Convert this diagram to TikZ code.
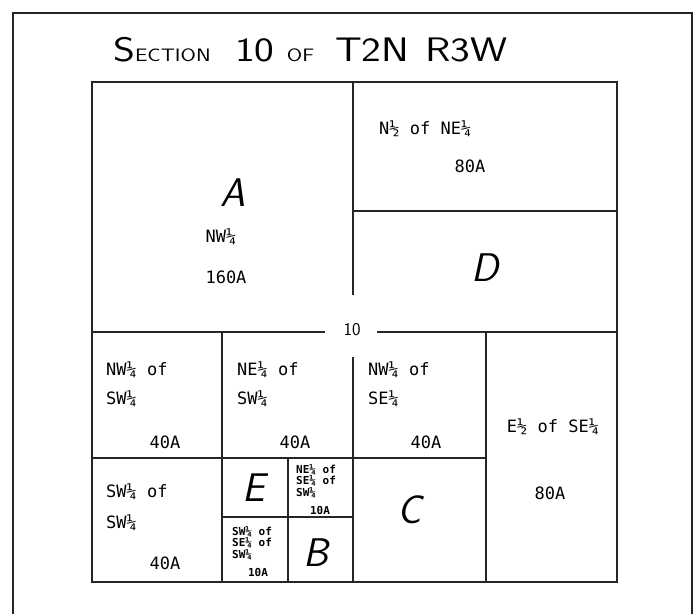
\documentclass[tikz,border=0pt]{standalone}
\usepackage{fontspec}
\usepackage{graphicx}
\newfontfamily\tw{DejaVu Sans Mono}
\newfontfamily\twb{DejaVu Sans Mono Bold}
\newcommand{\bigfs}{\fontsize{34}{34}\selectfont}
\newcommand{\smfs}{\fontsize{18}{18}\selectfont}
\begin{document}
\begin{tikzpicture}[x=1pt,y=-1pt,
  frame/.style={line width=2.2pt,black!85},
  plat/.style={line width=1.8pt,black!85},
  tlab/.style={font=\tw\fontsize{17}{17}\selectfont,anchor=base west,inner sep=0pt},
  acre/.style={font=\tw\fontsize{17}{17}\selectfont,anchor=base,inner sep=0pt},
  small/.style={font=\twb\fontsize{11}{11.5}\selectfont,anchor=base west,inner sep=0pt,align=left},
  smacre/.style={font=\twb\fontsize{11}{11}\selectfont,anchor=base,inner sep=0pt},
  letter/.style={font=\sffamily\slshape\fontsize{40}{40}\selectfont,inner sep=0pt},
]
\useasboundingbox (0,0) rectangle (699,614);
\fill[white] (0,0) rectangle (699,614);
% outer frame (open at the bottom edge of the page)
\draw[frame] (13,614) -- (13,13) -- (692,13) -- (692,614);
% title
\node[anchor=base west,inner sep=0pt,font=\sffamily] (title) at (113,61)
  {\scalebox{1.23}[1]{{\bigfs S}{\smfs ECTION}\hspace{20pt}{\bigfs 10}\hspace{10pt}{\smfs OF}\hspace{17pt}{\bigfs T2N}\hspace{13pt}{\bigfs R3W}}};
% section plat
\draw[plat] (92,82) rectangle (617,582);
\draw[plat] (353,82) -- (353,295);
\draw[plat] (353,211) -- (617,211);
\draw[plat] (92,332) -- (325,332);
\draw[plat] (377,332) -- (617,332);
\draw[plat] (353,357) -- (353,582);
\draw[plat] (222,332) -- (222,582);
\draw[plat] (486,332) -- (486,582);
\draw[plat] (92,458) -- (486,458);
\draw[plat] (288,458) -- (288,582);
\draw[plat] (222,517) -- (353,517);
% section number on the midline
\node[font=\sffamily\fontsize{18}{18}\selectfont,inner sep=0pt] (ten) at (352,330) {10};
% NW quarter
\node[letter] (A) at (233,193) {A};
\node[acre] (nwq) at (221,242) {NW¼};
\node[acre] (nwa) at (226,283) {160A};
% NE quarter
\node[tlab] (n2) at (379,134) {N½ of NE¼};
\node[acre] (n2a) at (470,172) {80A};
\node[letter] (D) at (485,268) {D};
% SW quarter and SE quarter
\node[tlab] (l1) at (106,375) {NW¼ of};
\node[tlab] (l1b) at (106,404) {SW¼};
\node[acre] (l1a) at (165,448) {40A};
\node[tlab] (l2) at (237,375) {NE¼ of};
\node[tlab] (l2b) at (237,404) {SW¼};
\node[acre] (l2a) at (295,448) {40A};
\node[tlab] (l3) at (368,375) {NW¼ of};
\node[tlab] (l3b) at (368,404) {SE¼};
\node[acre] (l3a) at (426,448) {40A};
\node[acre] (r1) at (553,432) {E½ of SE¼};
\node[acre] (r1a) at (550,499) {80A};
\node[tlab] (l4) at (106,497) {SW¼ of};
\node[tlab] (l4b) at (106,528) {SW¼};
\node[acre] (l4a) at (165,569) {40A};
\node[letter] (E) at (254,488) {E};
\node[small] (s1) at (296,496) {NE¼ of\\SE¼ of\\SW¼};
\node[smacre] (s1a) at (320,514) {10A};
\node[small] (s2) at (232,558) {SW¼ of\\SE¼ of\\SW¼};
\node[smacre] (s2a) at (258,576) {10A};
\node[letter] (B) at (316,553) {B};
\node[letter] (C) at (410,510) {C};
\end{tikzpicture}
\end{document}
